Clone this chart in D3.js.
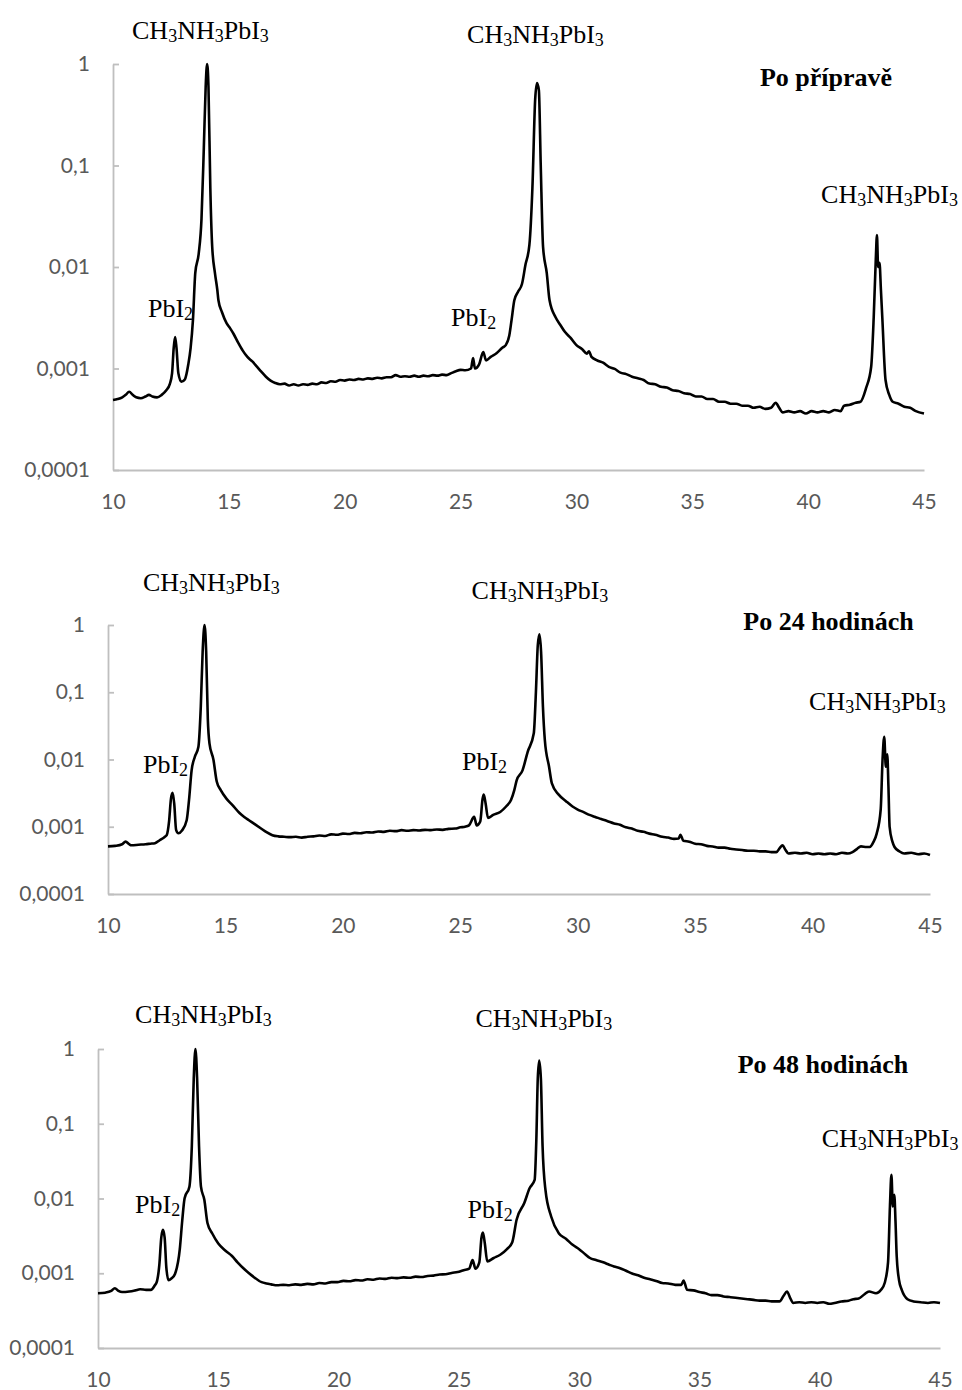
<!DOCTYPE html>
<html>
<head>
<meta charset="utf-8">
<script src="https://cdn.jsdelivr.net/npm/d3@7"></script>
<style>
  body { margin: 0; background: #fff; }
</style>
</head>
<body>
<div id="chart"></div>
<script>
// x axis (2 theta) and y axis (normalised intensity, log)
var xTicks = [10, 15, 20, 25, 30, 35, 40, 45];
var yTicks = [0.0001, 0.001, 0.01, 0.1, 1];
var yTickLabels = ["0,0001", "0,001", "0,01", "0,1", "1"];

var titles = ["Po přípravě", "Po 24 hodinách", "Po 48 hodinách"];

// [2theta, intensity]
var scan0h = [
  [10.0,0.00049],[10.2,0.0005],[10.4,0.00052],[10.55,0.00055],[10.7,0.00059],[10.85,0.00055],
  [11.0,0.00052],[11.2,0.00051],[11.4,0.00053],[11.55,0.00055],[11.7,0.00053],[11.9,0.00052],
  [12.1,0.00055],[12.3,0.00061],[12.45,0.0007],[12.55,0.0009],[12.62,0.0016],[12.68,0.00204],
  [12.74,0.0016],[12.82,0.0009],[12.95,0.00074],[13.1,0.00078],[13.25,0.0011],[13.35,0.0016],
  [13.45,0.003],[13.55,0.0087],[13.7,0.0136],[13.82,0.03],[13.92,0.15],[14.0,0.6],[14.06,1.0],
  [14.12,0.6],[14.2,0.06],[14.28,0.016],[14.4,0.0087],[14.5,0.006],[14.55,0.0047],[14.7,0.0036],
  [14.9,0.0028],[15.05,0.0025],[15.2,0.0022],[15.4,0.0018],[15.6,0.0015],[15.8,0.0013],
  [16.0,0.00118],[16.2,0.00105],[16.4,0.00093],[16.6,0.00083],[16.8,0.00076],[17.0,0.00072],
  [17.2,0.0007],[17.4,0.00071],[17.6,0.00068],[17.8,0.0007],[18.0,0.00068],[18.2,0.0007],
  [18.4,0.00069],[18.6,0.00071],[18.8,0.0007],[19.0,0.00073],[19.2,0.00072],[19.4,0.00075],
  [19.6,0.00074],[19.8,0.00077],[20.0,0.00076],[20.2,0.00078],[20.4,0.00077],[20.6,0.00079],
  [20.8,0.00078],[21.0,0.0008],[21.2,0.00079],[21.4,0.00081],[21.6,0.0008],[21.8,0.00082],
  [22.0,0.00082],[22.2,0.00086],[22.4,0.00083],[22.6,0.00084],[22.8,0.00083],[23.0,0.00085],
  [23.2,0.00083],[23.4,0.00085],[23.6,0.00084],[23.8,0.00086],[24.0,0.00085],[24.2,0.00087],
  [24.4,0.00086],[24.6,0.0009],[24.8,0.00094],[25.0,0.00097],[25.2,0.00096],[25.45,0.001],
  [25.54,0.00127],[25.62,0.001],[25.8,0.0011],[25.98,0.00145],[26.1,0.0012],[26.3,0.0013],
  [26.55,0.00141],[26.8,0.0016],[26.95,0.0017],[27.1,0.0021],[27.2,0.003],[27.32,0.0047],
  [27.48,0.0057],[27.65,0.0068],[27.8,0.0105],[27.97,0.0165],[28.1,0.06],[28.22,0.45],
  [28.3,0.65],[28.38,0.55],[28.46,0.1],[28.56,0.0158],[28.72,0.0087],[28.84,0.0047],
  [29.1,0.0032],[29.3,0.0027],[29.5,0.0023],[29.75,0.002],[30.0,0.0017],[30.25,0.00155],
  [30.45,0.0014],[30.54,0.00148],[30.65,0.0013],[30.9,0.0012],[31.15,0.00114],[31.4,0.00104],
  [31.65,0.00099],[31.9,0.00091],[32.15,0.00088],[32.4,0.00083],[32.65,0.0008],[32.9,0.00077],
  [33.15,0.00071],[33.4,0.0007],[33.65,0.00066],[33.9,0.00065],[34.15,0.00061],[34.4,0.0006],
  [34.65,0.00057],[34.9,0.00056],[35.15,0.00053],[35.4,0.00053],[35.65,0.0005],[35.9,0.0005],
  [36.15,0.00047],[36.4,0.00047],[36.65,0.00045],[36.9,0.00045],[37.15,0.00043],[37.4,0.00043],
  [37.65,0.00041],[37.9,0.00042],[38.15,0.0004],[38.4,0.00041],[38.6,0.00046],[38.75,0.00041],
  [38.9,0.00037],[39.15,0.00038],[39.4,0.00037],[39.65,0.00038],[39.9,0.00036],[40.15,0.00038],
  [40.4,0.00037],[40.65,0.00038],[40.9,0.00037],[41.15,0.00039],[41.4,0.00038],[41.55,0.00043],
  [41.8,0.00044],[42.05,0.00046],[42.26,0.00047],[42.5,0.00064],[42.72,0.00104],[42.83,0.0032],
  [42.92,0.012],[42.97,0.0207],[43.02,0.01],[43.08,0.011],[43.14,0.006],[43.2,0.0032],
  [43.34,0.00077],[43.5,0.00055],[43.65,0.00047],[43.9,0.00045],[44.15,0.00042],[44.4,0.00041],
  [44.65,0.00038],[45.0,0.00036]
];

var scan24h = [
  [10.0,0.00051],[10.3,0.00052],[10.6,0.00055],[10.75,0.0006],[10.9,0.00055],[11.0,0.00053],
  [11.3,0.00054],[11.6,0.00055],[11.8,0.00056],[12.0,0.00057],[12.2,0.00063],[12.4,0.0007],
  [12.5,0.00075],[12.6,0.0012],[12.68,0.0026],[12.75,0.0032],[12.82,0.0022],[12.9,0.0009],
  [13.0,0.0008],[13.15,0.00088],[13.35,0.00125],[13.45,0.0025],[13.56,0.0069],[13.7,0.011],
  [13.85,0.0155],[13.95,0.06],[14.03,0.4],[14.11,1.0],[14.18,0.4],[14.25,0.04],[14.32,0.0174],
  [14.49,0.0099],[14.63,0.0047],[14.8,0.0035],[15.05,0.0026],[15.3,0.0021],[15.6,0.0016],
  [15.8,0.0014],[16.0,0.00125],[16.2,0.00112],[16.5,0.00095],[16.75,0.00083],[17.0,0.00075],
  [17.25,0.00072],[17.5,0.00071],[17.75,0.0007],[18.0,0.00071],[18.25,0.00069],[18.5,0.00071],
  [18.75,0.00072],[19.0,0.00074],[19.25,0.00073],[19.5,0.00077],[19.75,0.00076],[20.0,0.00079],
  [20.25,0.00078],[20.5,0.00081],[20.75,0.0008],[21.0,0.00083],[21.25,0.00082],[21.5,0.00085],
  [21.75,0.00084],[22.0,0.00087],[22.25,0.00086],[22.5,0.00089],[22.75,0.00087],[23.0,0.00089],
  [23.25,0.00088],[23.5,0.0009],[23.75,0.00089],[24.0,0.00091],[24.25,0.0009],[24.5,0.00093],
  [24.78,0.00094],[25.0,0.00098],[25.2,0.001],[25.37,0.00105],[25.59,0.0014],[25.7,0.00105],
  [25.85,0.0012],[25.95,0.0026],[26.0,0.003],[26.08,0.0022],[26.18,0.00135],[26.4,0.0015],
  [26.7,0.00166],[26.95,0.002],[27.16,0.0025],[27.3,0.0035],[27.4,0.0049],[27.65,0.0069],
  [27.87,0.013],[28.13,0.0245],[28.22,0.1],[28.3,0.5],[28.37,0.73],[28.44,0.4],[28.52,0.06],
  [28.6,0.0195],[28.78,0.0078],[28.9,0.0044],[29.19,0.003],[29.5,0.0024],[29.78,0.002],
  [30.0,0.0018],[30.25,0.00165],[30.5,0.0015],[30.75,0.0014],[31.0,0.0013],[31.25,0.00122],
  [31.55,0.00112],[31.8,0.00107],[32.05,0.00098],[32.3,0.00094],[32.55,0.00087],[32.8,0.00084],
  [33.05,0.00079],[33.3,0.00076],[33.6,0.00071],[33.85,0.00069],[34.1,0.00066],[34.3,0.00067],
  [34.37,0.00076],[34.5,0.00062],[34.75,0.0006],[35.0,0.00056],[35.25,0.00055],[35.5,0.00052],
  [35.75,0.00051],[36.0,0.00049],[36.25,0.00049],[36.5,0.00047],[36.75,0.00046],[37.0,0.00045],
  [37.25,0.00044],[37.5,0.00044],[37.75,0.00043],[38.0,0.00043],[38.25,0.00042],[38.46,0.00042],
  [38.6,0.00048],[38.72,0.00053],[38.85,0.00045],[38.97,0.0004],[39.25,0.00041],[39.5,0.0004],
  [39.75,0.00041],[40.0,0.00039],[40.25,0.0004],[40.5,0.00039],[40.75,0.0004],[41.0,0.00039],
  [41.25,0.00041],[41.5,0.0004],[41.7,0.00042],[41.9,0.00047],[42.06,0.00051],[42.3,0.0005],
  [42.43,0.0005],[42.6,0.0006],[42.73,0.00079],[42.9,0.0018],[42.98,0.01],[43.05,0.0218],
  [43.12,0.0078],[43.18,0.012],[43.23,0.004],[43.28,0.001],[43.4,0.0006],[43.49,0.0005],
  [43.7,0.00043],[43.9,0.0004],[44.2,0.00041],[44.5,0.00039],[44.75,0.0004],[45.0,0.00038]
];

var scan48h = [
  [10.0,0.00054],[10.3,0.00055],[10.55,0.00058],[10.7,0.00063],[10.85,0.00058],[11.0,0.00056],
  [11.3,0.00057],[11.55,0.00059],[11.75,0.00061],[12.0,0.0006],[12.2,0.0006],[12.35,0.00068],
  [12.45,0.00078],[12.55,0.0013],[12.63,0.003],[12.7,0.0038],[12.77,0.003],[12.84,0.0012],
  [12.93,0.00081],[13.05,0.00085],[13.2,0.00098],[13.4,0.0021],[13.5,0.005],[13.6,0.0101],
  [13.8,0.0144],[13.9,0.05],[13.98,0.4],[14.05,1.0],[14.12,0.4],[14.2,0.05],[14.28,0.0144],
  [14.42,0.0096],[14.55,0.0047],[14.75,0.0034],[15.0,0.0025],[15.3,0.002],[15.57,0.0017],
  [15.8,0.0014],[16.1,0.00112],[16.4,0.00093],[16.8,0.00076],[17.0,0.00073],[17.2,0.00071],
  [17.45,0.00069],[17.7,0.0007],[17.95,0.00069],[18.2,0.00071],[18.45,0.0007],[18.7,0.00072],
  [18.95,0.00071],[19.2,0.00074],[19.45,0.00073],[19.7,0.00076],[19.95,0.00076],[20.2,0.00079],
  [20.45,0.00078],[20.7,0.00081],[20.95,0.0008],[21.2,0.00083],[21.45,0.00082],[21.7,0.00085],
  [21.95,0.00084],[22.2,0.00087],[22.45,0.00086],[22.7,0.00088],[22.95,0.00087],[23.2,0.0009],
  [23.45,0.00089],[23.7,0.00092],[23.95,0.00093],[24.2,0.00096],[24.45,0.00097],[24.7,0.00101],
  [24.95,0.00104],[25.2,0.0011],[25.43,0.00115],[25.57,0.0015],[25.69,0.00115],[25.85,0.0014],
  [25.94,0.003],[26.0,0.0035],[26.08,0.0025],[26.18,0.00144],[26.45,0.0016],[26.72,0.00177],
  [27.0,0.0021],[27.22,0.0026],[27.4,0.0052],[27.72,0.0087],[27.94,0.0137],[28.15,0.0177],
  [28.22,0.06],[28.28,0.4],[28.34,0.7],[28.41,0.4],[28.48,0.05],[28.6,0.013],[28.84,0.0057],
  [29.16,0.0034],[29.45,0.0029],[29.73,0.0024],[30.0,0.0021],[30.25,0.0018],[30.45,0.0016],
  [30.7,0.0015],[31.0,0.0014],[31.25,0.0013],[31.45,0.00123],[31.7,0.00117],[31.95,0.00108],
  [32.2,0.00099],[32.45,0.00094],[32.7,0.00087],[32.95,0.00083],[33.2,0.00079],[33.45,0.00074],
  [33.7,0.00073],[34.0,0.0007],[34.25,0.0007],[34.34,0.0008],[34.49,0.0006],[34.75,0.00059],
  [35.0,0.00056],[35.25,0.00054],[35.5,0.00051],[35.75,0.00051],[36.0,0.00049],[36.25,0.00048],
  [36.5,0.00047],[36.75,0.00046],[37.0,0.00045],[37.25,0.00044],[37.5,0.00043],[37.75,0.00043],
  [38.0,0.00042],[38.33,0.00042],[38.5,0.0005],[38.64,0.00057],[38.78,0.00046],[38.9,0.0004],
  [39.15,0.00041],[39.4,0.0004],[39.65,0.00041],[39.9,0.0004],[40.15,0.00041],[40.4,0.00039],
  [40.62,0.0004],[40.9,0.00042],[41.2,0.00043],[41.4,0.00045],[41.62,0.00046],[41.85,0.00052],
  [42.05,0.00057],[42.34,0.00054],[42.55,0.0006],[42.7,0.00074],[42.84,0.0014],[42.92,0.008],
  [42.98,0.0207],[43.04,0.0078],[43.1,0.0112],[43.15,0.005],[43.2,0.0017],[43.3,0.0008],
  [43.41,0.0006],[43.65,0.00045],[43.9,0.00042],[44.2,0.00041],[44.5,0.0004],[44.75,0.00041],
  [45.0,0.0004]
];

// peak labels: [text, 2theta, intensity] at the label's left baseline
var notes0h = [
  ["CH3NH3PbI3", 10.82, 1.76], ["CH3NH3PbI3", 25.28, 1.61], ["CH3NH3PbI3", 40.56, 0.0427],
  ["PbI2", 11.51, 0.00322], ["PbI2", 24.59, 0.00262]
];
var notes24h = [
  ["CH3NH3PbI3", 11.49, 3.2], ["CH3NH3PbI3", 25.48, 2.44], ["CH3NH3PbI3", 39.85, 0.0545],
  ["PbI2", 11.49, 0.0063], ["PbI2", 25.07, 0.00698]
];
var notes48h = [
  ["CH3NH3PbI3", 11.54, 2.23], ["CH3NH3PbI3", 25.69, 1.97], ["CH3NH3PbI3", 40.08, 0.0489],
  ["PbI2", 11.54, 0.0064], ["PbI2", 25.36, 0.00548]
];
var titlePos = [[37.92, 0.607], [37.05, 0.84], [36.59, 0.477]];

var panels = [
  { data: scan0h,  notes: notes0h,  left: 113, right: 924, top: 64,   bottom: 470 },
  { data: scan24h, notes: notes24h, left: 108, right: 930, top: 625,  bottom: 894 },
  { data: scan48h, notes: notes48h, left: 98,  right: 940, top: 1049, bottom: 1348 }
];

var width = 962, height = 1390;
var svg = d3.select("#chart").append("svg")
    .attr("width", width)
    .attr("height", height)
    .style("background", "#fff");

var serif = "'Liberation Serif','Times New Roman',serif";

panels.forEach(function(p, i) {
    var x = d3.scaleLinear().domain([10, 45]).range([p.left, p.right]);
    var y = d3.scaleLog().domain([0.0001, 1]).range([p.bottom, p.top]);
    var g = svg.append("g");

    var yAxis = d3.axisLeft(y)
        .tickValues(yTicks)
        .tickFormat(function(d, k) { return yTickLabels[k]; })
        .tickSizeInner(-6)
        .tickSizeOuter(0)
        .tickPadding(23);

    var xAxis = d3.axisBottom(x)
        .tickValues(xTicks)
        .tickSize(0)
        .tickPadding(24);

    var ga = g.append("g").attr("transform", "translate(" + p.left + ",0)").call(yAxis);
    var gb = g.append("g").attr("transform", "translate(0," + p.bottom + ")").call(xAxis);

    [ga, gb].forEach(function(a) {
        a.select(".domain").attr("stroke", "#bfbfbf").attr("stroke-width", 1.8);
        a.selectAll(".tick line").attr("stroke", "#bfbfbf").attr("stroke-width", 1.8);
        a.selectAll(".tick text")
            .attr("fill", "#595959")
            .style("font-family", "Lato, 'Open Sans', sans-serif")
            .style("font-size", "21px");
    });

    var line = d3.line()
        .x(function(d) { return x(d[0]); })
        .y(function(d) { return y(d[1]); })
        .curve(d3.curveMonotoneX);

    g.append("path")
        .datum(p.data)
        .attr("d", line)
        .attr("fill", "none")
        .attr("stroke", "#000")
        .attr("stroke-width", 2.6)
        .attr("stroke-linejoin", "round");

    p.notes.forEach(function(n) {
        var t = g.append("text")
            .attr("x", x(n[1]))
            .attr("y", y(n[2]))
            .style("font-family", serif)
            .style("font-size", "26px")
            .attr("fill", "#000");
        var parts = n[0].split(/(\d)/);
        parts.forEach(function(s, k) {
            if (s === "") return;
            if (k % 2 === 1) {
                t.append("tspan").attr("dy", 3).style("font-size", "18px").text(s);
            } else {
                t.append("tspan").attr("dy", k > 0 ? -3 : 0).text(s);
            }
        });
    });

    g.append("text")
        .attr("x", x(titlePos[i][0]))
        .attr("y", y(titlePos[i][1]))
        .style("font-family", serif)
        .style("font-size", "26px")
        .style("font-weight", "bold")
        .attr("fill", "#000")
        .text(titles[i]);
});
</script>
</body>
</html>
